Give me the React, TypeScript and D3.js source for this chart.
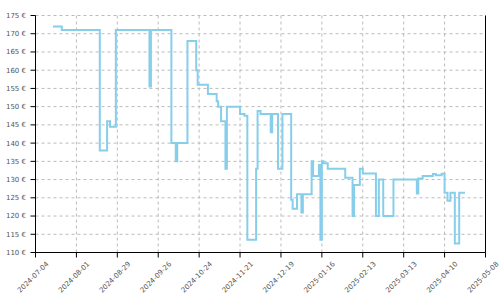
import React from 'react';
import * as d3 from 'd3';

const dates = [
  '2024-07-16', '2024-07-22', '2024-08-17', '2024-08-22', '2024-08-24', '2024-08-28',
  '2024-09-20', '2024-09-21', '2024-10-05', '2024-10-08', '2024-10-09', '2024-10-16',
  '2024-10-22', '2024-10-23', '2024-10-30', '2024-11-05', '2024-11-06', '2024-11-08',
  '2024-11-11', '2024-11-12', '2024-11-21', '2024-11-24', '2024-11-26', '2024-12-02',
  '2024-12-03', '2024-12-05', '2024-12-12', '2024-12-13', '2024-12-17', '2024-12-20',
  '2024-12-26', '2024-12-27', '2024-12-30', '2025-01-02', '2025-01-03', '2025-01-09',
  '2025-01-10', '2025-01-14', '2025-01-15', '2025-01-16', '2025-01-17', '2025-01-20',
  '2025-02-01', '2025-02-06', '2025-02-07', '2025-02-11', '2025-02-13', '2025-02-22',
  '2025-02-24', '2025-02-27', '2025-03-06', '2025-03-22', '2025-03-23', '2025-03-26',
  '2025-04-02', '2025-04-04', '2025-04-08', '2025-04-10', '2025-04-12', '2025-04-14',
  '2025-04-17', '2025-04-20', '2025-04-24',
];
const prices = [
  172, 171, 138, 146, 144.5, 171,
  155.5, 171, 140, 135, 140, 168,
  160, 156, 153.5, 151.5, 150, 146,
  133, 150, 148, 147.5, 113.5, 133,
  148.8, 148, 143, 148, 133, 148,
  124.5, 122, 126, 121, 126, 135,
  131, 134, 113.5, 135, 134.5, 133,
  130.5, 120, 128.5, 133, 131.7, 120,
  130, 120, 130, 126.2, 130.3, 131,
  131.5, 131.2, 131.6, 126.4, 124.2, 126.4,
  112.5, 126.4, 126.4,
];
const xTickLabels = [
  '2024-07-04', '2024-08-01', '2024-08-29', '2024-09-26', '2024-10-24', '2024-11-21',
  '2024-12-19', '2025-01-16', '2025-02-13', '2025-03-13', '2025-04-10', '2025-05-08',
];
const yTickValues = [110, 115, 120, 125, 130, 135, 140, 145, 150, 155, 160, 165, 170, 175];

export default function App() {
  const W = 500;
  const H = 300;
  const parse = d3.timeParse('%Y-%m-%d');
  const x = d3
    .scaleTime()
    .domain([parse(xTickLabels[0]) as Date, parse(xTickLabels[xTickLabels.length - 1]) as Date])
    .range([35.5, 485.5]);
  const y = d3.scaleLinear().domain([110, 175]).range([252.5, 15.5]);
  const data = dates.map((d, i) => ({ date: parse(d) as Date, price: prices[i] }));
  const line = d3
    .line<{ date: Date; price: number }>()
    .x((d) => x(d.date))
    .y((d) => y(d.price))
    .curve(d3.curveStepAfter);

  const [x0, x1] = x.range();
  const [yb, yt] = y.range();
  const font = "'DejaVu Sans', sans-serif";

  return (
    <svg
      width={W}
      height={H}
      style={{ position: 'absolute', left: 0, top: 0, background: '#fff' }}
    >
      {/* horizontal grid */}
      {yTickValues.map((v) => (
        <line
          key={'hg' + v}
          x1={x0}
          x2={482.5}
          y1={y(v)}
          y2={y(v)}
          stroke="#bbb"
          strokeDasharray="3,3"
        />
      ))}
      {/* vertical grid */}
      {xTickLabels.map((t) => (
        <line
          key={'vg' + t}
          x1={x(parse(t) as Date)}
          x2={x(parse(t) as Date)}
          y1={yt}
          y2={yb}
          stroke="#bbb"
          strokeDasharray="3,3"
        />
      ))}
      {/* data line */}
      <path d={line(data) || ''} fill="none" stroke="#87CEEB" strokeWidth={2} />
      {/* axes */}
      <line x1={x0} x2={x0} y1={yt} y2={yb} stroke="#000" />
      <line x1={x1} x2={x1} y1={yt} y2={yb} stroke="#000" />
      <line x1={x0} x2={x1} y1={yb} y2={yb} stroke="#000" />
      {yTickValues.map((v) => (
        <g key={'yt' + v}>
          <line x1={x0 - 5} x2={x0} y1={y(v)} y2={y(v)} stroke="#000" />
          <text
            x={26}
            y={y(v)}
            dy="0.35em"
            textAnchor="end"
            fontFamily={font}
            fontSize={7}
            fill="#555"
          >
            {`${v} €`}
          </text>
        </g>
      ))}
      {xTickLabels.map((t) => {
        const px = x(parse(t) as Date);
        return (
          <g key={'xt' + t}>
            <line x1={px} x2={px} y1={yb} y2={yb + 5} stroke="#000" />
            <text
              transform={`translate(${px - 2.5},${277}) rotate(-45)`}
              dy="0.35em"
              textAnchor="middle"
              fontFamily={font}
              fontSize={7}
              fill="#555"
            >
              {t}
            </text>
          </g>
        );
      })}
    </svg>
  );
}
